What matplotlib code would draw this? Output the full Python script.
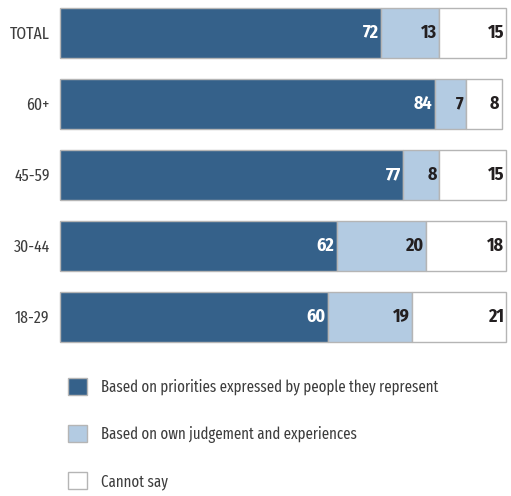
import matplotlib
matplotlib.use("Agg")
import matplotlib.pyplot as plt
from matplotlib import font_manager

categories = ["TOTAL", "60+", "45-59", "30-44", "18-29"]
priorities = [72, 84, 77, 62, 60]
own_judgement = [13, 7, 8, 20, 19]
cannot_say = [15, 8, 15, 18, 21]
series_names = ["Based on priorities expressed by people they represent",
                "Based on own judgement and experiences",
                "Cannot say"]

names = {f.name for f in font_manager.fontManager.ttflist}
def pick(cands):
    ch = [c for c in cands if c in names]
    return (ch[:1] if ch else []) + ["DejaVu Sans"]

fam_text = pick(["Fira Sans Extra Condensed", "Sofia Sans Condensed", "Fira Sans Condensed"])
fam_num = pick(["Fira Sans Condensed", "Fira Sans Extra Condensed", "Sofia Sans Condensed"])
plt.rcParams['font.family'] = fam_text

colors = ["#35618a", "#b3cbe2", "#ffffff"]
edge = "#b5b5b5"
label_colors = ["white", "#231f20", "#231f20"]
text_color = "#3d3d3d"

W, H = 511, 496
fig = plt.figure(figsize=(W/100, H/100), dpi=100)
ax = fig.add_axes([60/W, 1-342/H, 446/W, 334/H])

y = list(range(len(categories)))
left = [0]*len(categories)
containers = []
for vals, c, lc, name in zip([priorities, own_judgement, cannot_say], colors, label_colors, series_names):
    b = ax.barh(y, vals, left=left, height=0.7, color=c, edgecolor=edge, linewidth=1.0,
                label=name, clip_on=False)
    containers.append(b)
    for yi, l, v in zip(y, left, vals):
        ax.annotate(str(v), xy=(l+v, yi), xytext=(-1.5, 0), textcoords="offset points",
                    ha="right", va="center", color=lc, fontsize=13, fontweight="bold",
                    family=fam_num)
    left = [a+b_ for a, b_ in zip(left, vals)]

ax.set_xlim(0, 100)
ax.set_ylim(4.35, -0.35)
ax.set_yticks(y)
ax.set_yticklabels(categories, fontsize=12.3, color=text_color)
ax.tick_params(axis="y", length=0, pad=7.5)
ax.set_xticks([])
for s in ax.spines.values():
    s.set_visible(False)

fs = 11.6
hpx = 19.5

def make_legend(spacing, anchor):
    return fig.legend(handles=containers, labels=series_names, loc="upper left",
                      bbox_to_anchor=anchor, frameon=False,
                      prop={"size": fs, "family": fam_text},
                      handlelength=hpx/(fs*1.389), handleheight=hpx/(fs*1.389),
                      handletextpad=14/(fs*1.389), labelspacing=spacing,
                      labelcolor=text_color, borderpad=0, borderaxespad=0)

spacing = 1.5
anchor = (63/W, 1-370/H)
leg = make_legend(spacing, anchor)
fig.canvas.draw()
r = fig.canvas.get_renderer()
e0 = leg.legend_handles[0].get_window_extent(r)
e1 = leg.legend_handles[1].get_window_extent(r)
step = e0.y0 - e1.y0
spacing = spacing + (47.0 - step) / (fs*1.389)
leg.remove()
leg = make_legend(spacing, anchor)
fig.canvas.draw()
e0 = leg.legend_handles[0].get_window_extent(r)
dx = 68 - e0.x0
dy = (H - 378) - e0.y1
leg.remove()
leg = make_legend(spacing, (anchor[0] + dx/W, anchor[1] + dy/H))
fig.savefig("out.png", dpi=100)
